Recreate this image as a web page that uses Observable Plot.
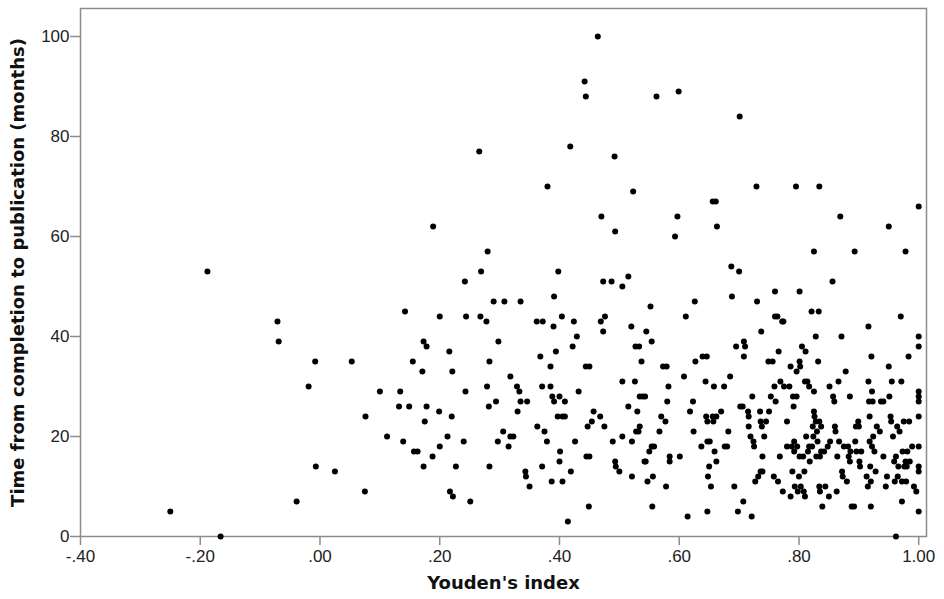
<!DOCTYPE html>
<html><head><meta charset="utf-8">
<script src="https://cdn.jsdelivr.net/npm/d3@7"></script>
<script src="https://cdn.jsdelivr.net/npm/@observablehq/plot@0.6"></script>
<style>body{margin:0;background:#fff}</style>
</head><body><div id="chart"></div>
<script>
const youden = [-0.25,-0.166,-0.188,-0.071,-0.069,-0.039,-0.019,-0.008,-0.007,0.025,0.053,0.076,0.075,0.10,0.112,0.134,0.132,0.139,0.142,0.149,0.155,0.157,0.163,0.171,0.173,0.178,0.178,0.175,0.173,0.189,0.188,0.2,0.199,0.2,0.213,0.216,0.221,0.22,0.217,0.222,0.227,0.24,0.242,0.244,0.243,0.251,0.266,0.269,0.268,0.278,0.28,0.279,0.283,0.282,0.283,0.29,0.294,0.298,0.297,0.308,0.306,0.315,0.318,0.318,0.323,0.329,0.333,0.33,0.335,0.335,0.346,0.343,0.344,0.35,0.362,0.363,0.368,0.372,0.371,0.375,0.371,0.379,0.38,0.385,0.385,0.387,0.39,0.388,0.391,0.391,0.394,0.398,0.397,0.4,0.401,0.4,0.404,0.405,0.405,0.409,0.409,0.414,0.418,0.419,0.422,0.424,0.426,0.429,0.432,0.442,0.444,0.444,0.45,0.445,0.45,0.447,0.449,0.454,0.457,0.464,0.468,0.47,0.469,0.473,0.476,0.473,0.475,0.487,0.489,0.492,0.493,0.493,0.494,0.5,0.505,0.505,0.505,0.515,0.515,0.52,0.521,0.521,0.523,0.526,0.527,0.53,0.528,0.533,0.532,0.534,0.534,0.537,0.539,0.542,0.543,0.544,0.545,0.547,0.55,0.552,0.554,0.554,0.556,0.555,0.558,0.562,0.567,0.57,0.573,0.579,0.577,0.578,0.58,0.582,0.584,0.584,0.593,0.597,0.599,0.601,0.608,0.611,0.614,0.618,0.624,0.623,0.626,0.627,0.637,0.639,0.644,0.646,0.645,0.647,0.647,0.648,0.65,0.647,0.651,0.653,0.656,0.656,0.657,0.658,0.659,0.661,0.663,0.662,0.662,0.67,0.675,0.676,0.68,0.682,0.685,0.687,0.688,0.692,0.695,0.698,0.7,0.701,0.702,0.706,0.708,0.708,0.71,0.707,0.715,0.716,0.716,0.719,0.721,0.722,0.724,0.725,0.727,0.729,0.73,0.732,0.735,0.736,0.736,0.737,0.738,0.739,0.739,0.742,0.745,0.75,0.749,0.753,0.756,0.758,0.76,0.76,0.759,0.761,0.764,0.765,0.766,0.768,0.769,0.772,0.774,0.773,0.775,0.78,0.78,0.784,0.786,0.786,0.788,0.789,0.79,0.791,0.792,0.792,0.793,0.795,0.796,0.796,0.797,0.798,0.801,0.801,0.801,0.8,0.802,0.803,0.805,0.807,0.808,0.809,0.81,0.81,0.811,0.812,0.814,0.815,0.817,0.817,0.818,0.821,0.822,0.823,0.824,0.825,0.825,0.825,0.826,0.828,0.828,0.829,0.83,0.831,0.833,0.834,0.832,0.834,0.834,0.835,0.835,0.837,0.837,0.839,0.842,0.844,0.848,0.851,0.85,0.852,0.856,0.857,0.859,0.86,0.861,0.863,0.864,0.866,0.867,0.869,0.871,0.872,0.873,0.875,0.878,0.88,0.882,0.883,0.885,0.885,0.886,0.888,0.892,0.893,0.894,0.895,0.896,0.899,0.9,0.901,0.902,0.904,0.913,0.915,0.916,0.916,0.917,0.918,0.918,0.919,0.92,0.92,0.921,0.922,0.922,0.923,0.924,0.926,0.928,0.93,0.935,0.937,0.941,0.941,0.945,0.947,0.95,0.95,0.951,0.953,0.954,0.955,0.957,0.959,0.96,0.962,0.962,0.964,0.965,0.966,0.968,0.97,0.971,0.972,0.972,0.973,0.975,0.976,0.978,0.978,0.979,0.98,0.981,0.983,0.984,0.985,0.989,0.992,0.996,1.0,1.0,1.0,1.0,1.0,1.0,1.0,1.0,1.0,1.0,1.0];
const months = [5,0,53,43,39,7,30,35,14,13,35,24,9,29,20,29,26,19,45,26,35,17,17,33,39,38,26,23,14,62,16,44,25,18,20,37,33,24,9,8,14,19,51,44,29,7,77,53,44,43,57,30,35,26,14,47,27,39,19,47,21,18,32,20,20,30,29,25,47,27,27,13,12,10,43,22,36,43,30,21,14,19,70,34,30,11,42,28,48,27,37,53,24,28,17,15,44,24,11,24,27,3,78,13,38,43,19,40,29,91,88,34,34,16,16,22,6,23,25,100,24,64,43,51,44,41,22,51,19,76,61,15,14,13,50,31,20,52,26,42,19,12,69,31,38,25,21,38,21,22,28,35,28,15,28,15,41,11,17,46,39,18,12,6,18,88,21,24,34,34,23,10,27,30,16,15,60,64,89,16,32,44,4,25,21,27,47,35,18,36,31,36,24,23,19,12,14,5,19,10,67,24,23,30,17,67,62,15,24,25,30,18,18,21,32,54,48,10,38,5,53,84,26,26,39,36,38,7,25,24,22,20,4,28,19,18,11,70,47,12,25,23,13,41,22,13,16,20,23,25,35,28,35,12,49,44,30,27,44,11,37,16,31,43,43,9,30,23,18,30,34,8,18,13,28,26,19,17,10,70,33,28,18,9,49,35,16,12,34,10,38,16,9,13,31,8,37,20,31,17,30,18,15,45,18,22,20,57,25,29,24,40,23,16,21,19,45,23,35,10,70,9,16,22,17,6,17,10,18,30,8,19,51,28,27,22,21,9,16,31,19,64,40,13,12,18,33,11,18,16,28,15,17,6,6,57,19,22,17,23,22,15,14,17,12,10,31,42,27,24,19,14,11,6,36,29,18,27,20,17,13,22,21,27,27,16,10,12,62,34,28,24,23,31,20,15,11,16,0,22,12,14,21,44,31,11,7,17,23,14,57,15,11,14,17,36,23,15,18,10,9,66,40,38,29,28,27,24,18,14,13,5];
const xTicks = [-0.4,-0.2,0,0.2,0.4,0.6,0.8,1.0];
const yTicks = [0,20,40,60,80,100];
const xLabel = "Youden's index";
const yLabel = "Time from completion to publication (months)";

const data = youden.map((x,i)=>({x, y: months[i]}));
const fmtX = d => {
  const a = Math.abs(d).toFixed(2);
  const s = a.startsWith("0.") ? a.slice(1) : a;
  return (d < 0 ? "-" : "") + s;
};
const axisColor = "#8c8c8c";
const tickFont = "'Liberation Sans', Arial, sans-serif";
const labelFont = "'DejaVu Sans', Verdana, sans-serif";

const chart = Plot.plot({
  width: 944, height: 599,
  marginLeft: 80, marginRight: 18, marginTop: 8, marginBottom: 63,
  style: {background: "#fff", fontFamily: tickFont, color: "#000"},
  x: {domain: [-0.4, 1.013]},
  y: {domain: [0, 105.6]},
  marks: [
    Plot.frame({stroke: axisColor, strokeWidth: 1.5}),
    Plot.axisY({ticks: yTicks, tickSize: 10, tickPadding: 1, stroke: axisColor, strokeWidth: 1.5, fill: "#222",
      fontSize: 17, fontFamily: tickFont, label: null, tickFormat: d3.format("d")}),
    Plot.axisX({ticks: xTicks, tickSize: 9, tickPadding: 4, stroke: axisColor, strokeWidth: 1.5, fill: "#222",
      fontSize: 17, fontFamily: tickFont, label: null, tickFormat: fmtX}),
    Plot.text([yLabel], {frameAnchor: "left", textAnchor: "middle", dx: -62, rotate: -90, fontSize: 18, fontWeight: "bold", fontFamily: labelFont, fill: "#111"}),
    Plot.text([xLabel], {frameAnchor: "bottom", dy: 52, fontSize: 18, fontWeight: "bold", fontFamily: labelFont, fill: "#111"}),
    Plot.dot(data, {x: "x", y: "y", r: 3, fill: "#000", stroke: "none"})
  ]
});
document.getElementById("chart").append(chart);
</script></body></html>
